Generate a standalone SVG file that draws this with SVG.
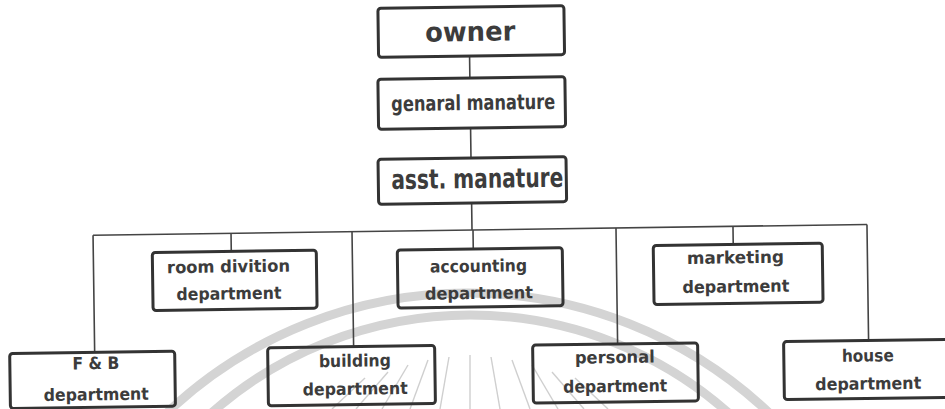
<svg xmlns="http://www.w3.org/2000/svg" width="945" height="409" viewBox="0 0 945 409">
  <defs>
    <style>
      .box { fill: none; stroke: #333; stroke-width: 3; }
      .lbl { font-family: "DejaVu Sans", "Liberation Sans", sans-serif; font-weight: bold; fill: #3c3c3c; text-anchor: middle; }
      .big { font-size: 27px; }
      .mid { font-size: 21px; }
      .dep { font-size: 17px; }
      .wire { fill: none; stroke: #444; stroke-width: 1.6; }
      .seal { fill: none; stroke: #d4d4d4; stroke-width: 9; }
      .ray { stroke: #cfcfcf; stroke-width: 1.4; }
    </style>
  </defs>
  <rect width="945" height="409" fill="#fff"/>

  <!-- faint seal printed behind the chart -->
  <g id="seal">
    <circle class="seal" cx="468" cy="731" r="438"/>
    <circle class="seal" cx="470" cy="705" r="390"/>
    <g class="ray">
      <line x1="470" y1="355" x2="470" y2="409"/>
      <line x1="449" y1="357" x2="440" y2="409"/>
      <line x1="491" y1="357" x2="500" y2="409"/>
      <line x1="428" y1="360" x2="410" y2="409"/>
      <line x1="512" y1="360" x2="530" y2="409"/>
      <line x1="408" y1="365" x2="382" y2="409"/>
      <line x1="532" y1="365" x2="558" y2="409"/>
      <line x1="388" y1="372" x2="356" y2="409"/>
      <line x1="552" y1="372" x2="584" y2="409"/>
      <line x1="365" y1="378" x2="332" y2="409"/>
      <line x1="575" y1="378" x2="608" y2="409"/>
    </g>
  </g>

  <!-- the whole chart sits a little off level -->
  <g transform="rotate(-0.8 472 230)">
    <g id="connectors">
      <path class="wire" d="M472 56V78M472 128V158M472 203V230"/>
      <path class="wire" d="M93 230H867"/>
      <path class="wire" d="M93 230V347M231 230V248M473 230V249M733 230V248"/>
      <path class="wire" d="M352 230V345M616 230V346M867 230V346"/>
    </g>

    <g id="owner">
      <rect class="box" x="381" y="7" width="186" height="49" rx="3"/>
      <text class="lbl big" x="473" y="41" textLength="90" lengthAdjust="spacingAndGlyphs">owner</text>
    </g>
    <g id="general-manature">
      <rect class="box" x="380" y="78" width="187" height="50" rx="3"/>
      <text class="lbl mid" x="475" y="110" textLength="164" lengthAdjust="spacingAndGlyphs">genaral manature</text>
    </g>
    <g id="asst-manature">
      <rect class="box" x="379" y="158" width="188" height="45" rx="3"/>
      <text class="lbl big" x="478" y="188" textLength="172" lengthAdjust="spacingAndGlyphs">asst. manature</text>
    </g>

    <g id="room-divition">
      <rect class="box" x="152" y="248" width="164" height="58" rx="3"/>
      <text class="lbl dep" x="228" y="269" textLength="123" lengthAdjust="spacingAndGlyphs">room divition</text>
      <text class="lbl dep" x="228" y="296" textLength="105" lengthAdjust="spacingAndGlyphs">department</text>
    </g>
    <g id="accounting">
      <rect class="box" x="397" y="249" width="165" height="58" rx="3"/>
      <text class="lbl dep" x="478" y="272" textLength="97" lengthAdjust="spacingAndGlyphs">accounting</text>
      <text class="lbl dep" x="478" y="299" textLength="108" lengthAdjust="spacingAndGlyphs">department</text>
    </g>
    <g id="marketing">
      <rect class="box" x="653" y="248" width="169" height="59" rx="3"/>
      <text class="lbl dep" x="735" y="267" textLength="97" lengthAdjust="spacingAndGlyphs">marketing</text>
      <text class="lbl dep" x="735" y="296" textLength="107" lengthAdjust="spacingAndGlyphs">department</text>
    </g>

    <g id="f-and-b">
      <rect class="box" x="8" y="347" width="165" height="55" rx="3"/>
      <text class="lbl dep" x="94" y="364" textLength="47" lengthAdjust="spacingAndGlyphs">F &amp; B</text>
      <text class="lbl dep" x="94" y="395" textLength="105" lengthAdjust="spacingAndGlyphs">department</text>
    </g>
    <g id="building">
      <rect class="box" x="266" y="345" width="167" height="58" rx="3"/>
      <text class="lbl dep" x="353" y="365" textLength="72" lengthAdjust="spacingAndGlyphs">building</text>
      <text class="lbl dep" x="353" y="393" textLength="105" lengthAdjust="spacingAndGlyphs">department</text>
    </g>
    <g id="personal">
      <rect class="box" x="531" y="346" width="165" height="58" rx="3"/>
      <text class="lbl dep" x="613" y="365" textLength="80" lengthAdjust="spacingAndGlyphs">personal</text>
      <text class="lbl dep" x="613" y="394" textLength="104" lengthAdjust="spacingAndGlyphs">department</text>
    </g>
    <g id="house">
      <rect class="box" x="782" y="346" width="168" height="58" rx="3"/>
      <text class="lbl dep" x="866" y="367" textLength="52" lengthAdjust="spacingAndGlyphs">house</text>
      <text class="lbl dep" x="866" y="395" textLength="106" lengthAdjust="spacingAndGlyphs">department</text>
    </g>
  </g>
</svg>
